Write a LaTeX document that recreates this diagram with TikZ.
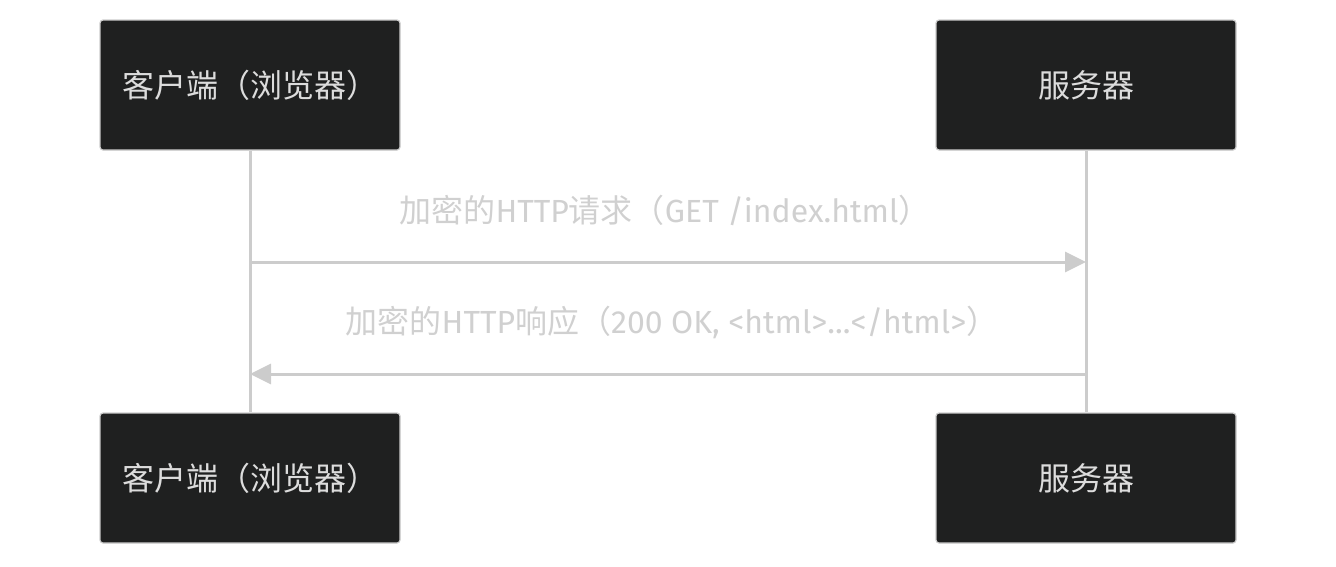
\documentclass[tikz,border=0pt]{standalone}
\usepackage{fontspec}
\setmainfont{Fira Sans}
\newfontfamily\cjk{Noto Sans CJK SC}
\usetikzlibrary{arrows.meta}
\definecolor{boxfill}{HTML}{1F2020}
\definecolor{boxline}{HTML}{CCCCCC}
\definecolor{boxtext}{HTML}{DCDCDC}
\definecolor{msgtext}{HTML}{D0D0D0}
\definecolor{lifeline}{HTML}{CCCCCC}
\tikzset{
  actor/.style={draw=boxline, line width=1.2pt, fill=boxfill, rounded corners=3pt,
    minimum width=300pt, minimum height=130pt, inner sep=0pt,
    text=boxtext, font=\cjk\fontsize{32}{38}\selectfont},
  life/.style={draw=lifeline, line width=3pt},
  msg/.style={draw=lifeline, line width=3pt, -{Triangle[length=21pt,width=20pt]}},
  msglabel/.style={text=msgtext, font=\fontsize{32}{38}\selectfont, inner sep=0pt}
}
\begin{document}
\begin{tikzpicture}[x=1pt,y=-1pt]
\useasboundingbox (0,0) rectangle (1336,566);
\node[actor] (ct) at (250,85) {客户端（浏览器）};
\node[actor] (st) at (1086,85) {服务器};
\node[actor] (cb) at (250,478) {客户端（浏览器）};
\node[actor] (sb) at (1086,478) {服务器};
\draw[life] (ct.south) -- (cb.north);
\draw[life] (st.south) -- (sb.north);
\coordinate (c1) at (250,262);
\coordinate (s1) at (1086,262);
\coordinate (c2) at (250,374);
\coordinate (s2) at (1086,374);
\draw[msg] (c1) -- (s1);
\draw[msg] (s2) -- (c2);
\node[msglabel] (m1) at (665,210) {{\cjk 加密的}HTTP{\cjk 请求（}GET /index.html{\cjk ）}};
\node[msglabel] (m2) at (672,322) {{\cjk 加密的}HTTP{\cjk 响应（}200 OK, <html>...</html>{\cjk ）}};
\end{tikzpicture}
\end{document}
